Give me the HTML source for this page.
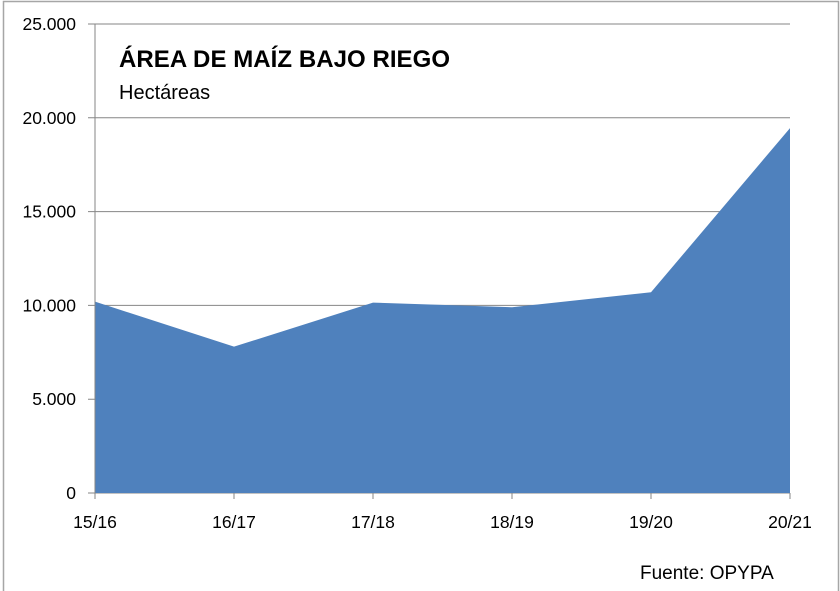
<!DOCTYPE html>
<html><head><meta charset="utf-8"><style>
body{margin:0;background:#fff;}
svg{display:block;font-family:"Liberation Sans",sans-serif;}
</style></head><body>
<svg width="840" height="591">
<rect x="3.5" y="1.5" width="835" height="595" fill="#fff" stroke="#a6a6a6" stroke-width="1.5"/>
<g id="grid"></g>
<path id="area" fill="#4f81bd"/>
<g id="axes"></g>
<text x="119" y="67" font-size="24" font-weight="bold" fill="#000" textLength="331">ÁREA DE MAÍZ BAJO RIEGO</text>
<text x="119" y="99" font-size="20" fill="#000">Hectáreas</text>
<text x="640" y="579" font-size="19" fill="#000">Fuente: OPYPA</text>
</svg>
<script>
const categories=["15/16","16/17","17/18","18/19","19/20","20/21"];
const values=[10200,7800,10150,9900,10700,19450];
const yTicks=[0,5000,10000,15000,20000,25000];
const yTickLabels=["0","5.000","10.000","15.000","20.000","25.000"];
const X0=95,X1=790,Y0=493,Y1=24,YMAX=25000;
const xs=i=>X0+i*(X1-X0)/(categories.length-1);
const ys=v=>Y0-v/YMAX*(Y0-Y1);
const NS="http://www.w3.org/2000/svg";
const grid=document.getElementById('grid'),axes=document.getElementById('axes');
function mk(t,a,p){const e=document.createElementNS(NS,t);for(const k in a)e.setAttribute(k,a[k]);p.appendChild(e);return e;}
yTicks.forEach((v,i)=>{
 const l=mk('line',{x1:88,x2:X1,y1:ys(v),y2:ys(v),stroke:'#868686','stroke-width':1},grid);
 
 
 const t=mk('text',{x:76,y:ys(v)+6,'text-anchor':'end','font-size':17.5,fill:'#000'},axes);
 t.textContent=yTickLabels[i];
 
 
});
let d='M'+xs(0)+','+Y0;
values.forEach((v,i)=>{d+=' L'+xs(i)+','+ys(v);});
d+=' L'+xs(values.length-1)+','+Y0+' Z';
document.getElementById('area').setAttribute('d',d);
mk('line',{x1:X0,x2:X0,y1:Y1,y2:Y0,stroke:'#868686'},axes);
categories.forEach((c,i)=>{
 mk('line',{x1:xs(i),x2:xs(i),y1:Y0,y2:Y0+6,stroke:'#868686'},axes);
 const t=mk('text',{x:xs(i),y:Y0+35,'text-anchor':'middle','font-size':17.5,fill:'#000'},axes);
 t.textContent=c;
 
 
});
</script>
</body></html>
